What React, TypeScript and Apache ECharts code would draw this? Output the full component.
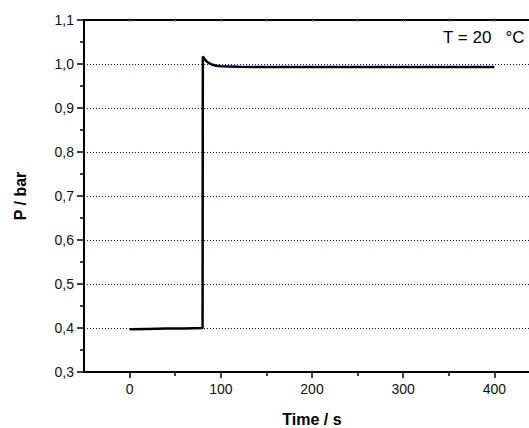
import React, { useEffect, useRef } from "react";
import * as echarts from "echarts";

const timeS = [0, 20, 40, 60, 80, 80.3, 82, 84, 87, 90, 95, 100, 120, 150, 200, 300, 400];
const pressureBar = [0.397, 0.398, 0.399, 0.399, 0.4, 1.017, 1.012, 1.007, 1.002, 0.999, 0.996, 0.995, 0.994, 0.993, 0.993, 0.993, 0.993];
const xMajorTicks = [0, 100, 200, 300, 400];
const xMinorTicks = [50, 150, 250, 350, 450];
const annotation = "T = 20   °C";

const FONT = "'Liberation Sans', Arial, sans-serif";

export default function App() {
  const ref = useRef<HTMLDivElement>(null);
  useEffect(() => {
    if (!ref.current) return;
    const chart = echarts.init(ref.current, null, { renderer: "svg" });
    const data = timeS.map((t, i) => [t, pressureBar[i]]);
    chart.setOption({
      animation: false,
      backgroundColor: "#ffffff",
      grid: { left: 84, width: 456, top: 20, height: 352, outerBoundsMode: "none", containLabel: false },
      xAxis: [
        {
          type: "value",
          position: "bottom",
          min: -50,
          max: 450,
          name: "Time / s",
          nameLocation: "middle",
          nameGap: 39,
          nameTextStyle: { fontFamily: FONT, fontSize: 16, fontWeight: "bold", color: "#000", verticalAlign: "top" },
          axisLine: { show: true, onZero: false, lineStyle: { color: "#000", width: 2 } },
          axisTick: { show: true, inside: false, length: 6, customValues: xMajorTicks, lineStyle: { color: "#000", width: 1.5 } },
          axisLabel: { customValues: xMajorTicks, margin: 10, fontFamily: FONT, fontSize: 14, color: "#111" },
          splitLine: { show: false },
        },
        {
          type: "value",
          position: "bottom",
          min: -50,
          max: 450,
          axisLine: { show: false },
          axisTick: { show: true, inside: false, length: 4, customValues: xMinorTicks, lineStyle: { color: "#000", width: 1.5 } },
          axisLabel: { show: false },
          splitLine: { show: false },
        },
        {
          type: "value",
          position: "top",
          min: -50,
          max: 450,
          axisLine: { show: true, onZero: false, lineStyle: { color: "#000", width: 2 } },
          axisTick: { show: true, inside: true, length: 2, customValues: xMajorTicks.concat(xMinorTicks), lineStyle: { color: "#888", width: 1 } },
          axisLabel: { show: false },
          splitLine: { show: false },
        },
      ],
      yAxis: {
        type: "value",
        min: 0.3,
        max: 1.1,
        interval: 0.1,
        name: "P / bar",
        nameLocation: "middle",
        nameRotate: 90,
        nameGap: 56,
        nameTextStyle: { fontFamily: FONT, fontSize: 16, fontWeight: "bold", color: "#000" },
        axisLine: { show: true, onZero: false, lineStyle: { color: "#000", width: 2 } },
        axisTick: { show: true, inside: false, length: 7, lineStyle: { color: "#000", width: 1.5 } },
        minorTick: { show: true, splitNumber: 2, length: 4, lineStyle: { color: "#000", width: 1.5 } },
        axisLabel: {
          margin: 10,
          fontFamily: FONT,
          fontSize: 14,
          color: "#111",
          formatter: (v: number) => v.toFixed(1).replace(".", ","),
        },
        splitLine: { show: true, lineStyle: { color: "#0000ff", width: 1, type: [1, 2] } },
      },
      graphic: [
        {
          type: "text",
          left: 443,
          top: 29,
          style: { text: annotation, fontFamily: FONT, fontSize: 17, fill: "#000" },
        },
      ],
      series: [
        {
          type: "line",
          data,
          showSymbol: false,
          symbol: "none",
          lineStyle: { color: "#000", width: 2.5 },
          z: 5,
        },
      ],
    });
    return () => chart.dispose();
  }, []);
  return <div ref={ref} style={{ position: "fixed", left: 0, top: 0, width: 529, height: 428 }} />;
}
